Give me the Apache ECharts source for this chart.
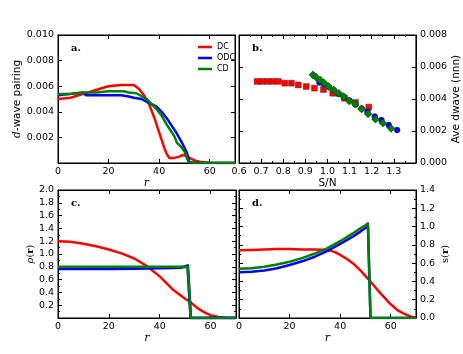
<!DOCTYPE html>
<html>
<head>
<meta charset="utf-8">
<script src="https://cdn.jsdelivr.net/npm/echarts@6/dist/echarts.min.js"></script>
<style>
  html, body { margin: 0; padding: 0; background: #fff; }
  #chart { width: 463px; height: 354px; }
</style>
</head>
<body>
<div id="chart"></div>
<script>
// panel a: d-wave pairing vs r
var rDcA = [0, 5, 10, 15, 20, 25, 30, 32, 34, 36, 38, 40, 42, 43, 44, 46, 48, 49, 50, 51, 52, 54, 56, 58, 60, 65, 70];
var dcA = [0.0050, 0.0051, 0.0054, 0.0057, 0.0060, 0.0061, 0.0061, 0.0058, 0.0053, 0.0046, 0.0036, 0.0024, 0.0012, 0.0007, 0.0004, 0.0004, 0.0005, 0.0006, 0.0006, 0.0005, 0.0004, 0.0002, 0.0001, 0.00005, 0.00002, 0, 0];
var rOdcA = [0, 5, 10, 11, 15, 20, 25, 28, 30, 33, 35, 37, 39, 41, 43, 45, 47, 49, 51, 51.5, 52, 55, 60, 65, 70];
var odcA = [0.0053, 0.0054, 0.0055, 0.0053, 0.0053, 0.0053, 0.0053, 0.0052, 0.0051, 0.0050, 0.0048, 0.0046, 0.0044, 0.0040, 0.0035, 0.0029, 0.0023, 0.0016, 0.0008, 0.0004, 0, 0, 0, 0, 0];
var rCdA = [0, 5, 10, 15, 20, 26, 28, 31, 35, 39, 41, 43, 45, 46, 47, 48, 49, 50, 51, 51.5, 52, 55, 60, 65, 70];
var cdA = [0.0054, 0.0054, 0.0055, 0.0055, 0.0056, 0.0056, 0.0055, 0.00545, 0.0050, 0.0042, 0.0037, 0.0030, 0.0024, 0.0021, 0.0016, 0.0014, 0.0012, 0.0009, 0.0004, 0.0001, 0, 0, 0, 0, 0];

// panel b: Ave dwave vs S/N
var dcBx = [0.682, 0.704, 0.730, 0.754, 0.778, 0.807, 0.837, 0.868, 0.904, 0.941, 0.982, 1.024, 1.077, 1.127, 1.187];
var dcBy = [0.00510, 0.00510, 0.00510, 0.00510, 0.00510, 0.00499, 0.00499, 0.00488, 0.00478, 0.00468, 0.00459, 0.00436, 0.00405, 0.00378, 0.00349];
var odcBx = [0.940, 0.964, 0.985, 1.005, 1.028, 1.050, 1.075, 1.100, 1.127, 1.155, 1.181, 1.214, 1.244, 1.277, 1.315];
var odcBy = [0.00545, 0.00503, 0.00492, 0.00476, 0.00455, 0.00432, 0.00412, 0.00390, 0.00365, 0.00340, 0.00320, 0.00290, 0.00268, 0.00237, 0.00206];
var cdBx = [0.934, 0.950, 0.968, 0.987, 1.005, 1.028, 1.051, 1.073, 1.098, 1.125, 1.154, 1.184, 1.217, 1.251, 1.288];
var cdBy = [0.00551, 0.00534, 0.00519, 0.00499, 0.00478, 0.00457, 0.00436, 0.00415, 0.00388, 0.00368, 0.00337, 0.00307, 0.00274, 0.00249, 0.00216];

// panel c: rho(r)
var rDcC = [0, 5, 10, 15, 20, 25, 30, 35, 40, 45, 50, 52, 55, 58, 60, 63, 66, 70];
var dcC = [1.20, 1.19, 1.16, 1.12, 1.07, 1.01, 0.93, 0.81, 0.65, 0.45, 0.30, 0.25, 0.15, 0.08, 0.045, 0.016, 0.005, 0];
var rStepC = [0, 10, 20, 30, 40, 45, 48, 50, 51, 51.6, 52.2, 70];
var odcC = [0.77, 0.77, 0.77, 0.775, 0.78, 0.785, 0.79, 0.80, 0.82, 0.82, 0, 0];
var cdC = [0.80, 0.80, 0.80, 0.80, 0.80, 0.80, 0.80, 0.80, 0.80, 0.79, 0, 0];

// panel d: s(r)
var rDcD = [0, 5, 10, 15, 20, 25, 30, 35, 38, 40, 43, 45, 48, 50, 52, 55, 58, 60, 63, 65, 68, 70];
var dcD = [0.74, 0.745, 0.75, 0.755, 0.755, 0.75, 0.75, 0.745, 0.72, 0.69, 0.64, 0.60, 0.52, 0.46, 0.40, 0.30, 0.21, 0.15, 0.08, 0.05, 0.015, 0.005];
var rStepD = [0, 5, 10, 15, 20, 25, 30, 35, 40, 45, 48, 50, 51, 51.5, 52, 70];
var odcD = [0.50, 0.505, 0.52, 0.545, 0.58, 0.62, 0.67, 0.735, 0.81, 0.89, 0.945, 0.985, 1.005, 1.01, 0, 0];
var cdD = [0.54, 0.545, 0.56, 0.585, 0.615, 0.655, 0.705, 0.765, 0.84, 0.925, 0.98, 1.015, 1.035, 1.045, 0, 0];

var RED = "#ff0000", BLUE = "#0000ff", GREEN = "#008000";
var font = "DejaVu Sans";

function zip(xs, ys) {
  return xs.map(function (x, i) { return [x, ys[i]]; });
}

// main axis with labels plus a mirror axis carrying only inside ticks
function axes(gridIndex, o) {
  var tick = { inside: true, length: 4, lineStyle: { color: "#000" } };
  var minor = { show: !!o.minor, splitNumber: 2, length: 2, lineStyle: { color: "#000" } };
  var line = { show: true, onZero: false, lineStyle: { color: "#000", width: 1 } };
  var main = {
    type: "value", gridIndex: gridIndex, position: o.pos,
    min: o.min, max: o.max, interval: o.interval,
    axisLine: line, axisTick: tick, minorTick: minor, splitLine: { show: false },
    axisLabel: {
      color: "#000", fontFamily: font, fontSize: 9.5, margin: 4,
      formatter: o.fmt, showMinLabel: o.showMin, showMaxLabel: o.showMax,
    },
    name: o.name, nameLocation: "middle", nameGap: o.gap, nameTextStyle: o.nameStyle,
  };
  var mirror = {
    type: "value", gridIndex: gridIndex, position: o.other,
    min: o.min, max: o.max, interval: o.interval,
    axisLine: line, axisTick: tick, minorTick: minor, splitLine: { show: false },
    axisLabel: { show: false },
  };
  return [main, mirror];
}

function fix(n) {
  return function (v) { return v.toFixed(n); };
}

var rName = {
  fontFamily: "DejaVu Serif", fontStyle: "italic", fontSize: 11, color: "#000",
};

var xAxes = [].concat(
  axes(0, { pos: "bottom", other: "top", min: 0, max: 70, interval: 20, fmt: fix(0), showMax: false, name: "r", gap: 11, nameStyle: rName }),
  axes(1, { pos: "bottom", other: "top", min: 0.6, max: 1.4, interval: 0.1, fmt: fix(1), showMax: false, minor: true, name: "S/N", gap: 14,
    nameStyle: { fontFamily: font, fontSize: 10.5, color: "#000" } }),
  axes(2, { pos: "bottom", other: "top", min: 0, max: 70, interval: 20, fmt: fix(0), showMax: false, name: "r", gap: 11, nameStyle: rName }),
  axes(3, { pos: "bottom", other: "top", min: 0, max: 70, interval: 20, fmt: fix(0), showMax: false, name: "r", gap: 11, nameStyle: rName })
);

var yAxes = [].concat(
  axes(0, { pos: "left", other: "right", min: 0, max: 0.01, interval: 0.002, fmt: fix(3), showMin: false,
    name: "{i|d}-wave pairing", gap: 34,
    nameStyle: { fontFamily: font, fontSize: 10.5, color: "#000",
      rich: { i: { fontFamily: "DejaVu Serif", fontStyle: "italic", fontSize: 10.5 } } } }),
  axes(1, { pos: "right", other: "left", min: 0, max: 0.008, interval: 0.002, fmt: fix(3),
    name: "Ave dwave (nnn)", gap: 33, nameStyle: { fontFamily: font, fontSize: 10.5, color: "#000" } }),
  axes(2, { pos: "left", other: "right", min: 0, max: 2.0, interval: 0.2, fmt: fix(1), showMin: false, minor: true,
    name: "{i|ρ}({b|r})", gap: 22,
    nameStyle: { fontFamily: "DejaVu Serif", fontSize: 10, color: "#000",
      rich: { i: { fontFamily: "DejaVu Serif", fontStyle: "italic", fontSize: 10 }, b: { fontFamily: "DejaVu Serif", fontWeight: "bold", fontSize: 10 } } } }),
  axes(3, { pos: "right", other: "left", min: 0, max: 1.4, interval: 0.2, fmt: fix(1), minor: true,
    name: "s({b|r})", gap: 24,
    nameStyle: { fontFamily: "DejaVu Serif", fontSize: 10, color: "#000",
      rich: { b: { fontFamily: "DejaVu Serif", fontWeight: "bold", fontSize: 10 } } } })
);

function lineSeries(name, panel, data, color, width) {
  return {
    name: name, type: "line", xAxisIndex: panel * 2, yAxisIndex: panel * 2,
    data: data, showSymbol: false, symbol: "none", animation: false,
    lineStyle: { color: color, width: width || 2.5, join: "round" }, itemStyle: { color: color },
  };
}

function dotSeries(name, data, symbol, size, color) {
  return {
    name: name, type: "scatter", xAxisIndex: 2, yAxisIndex: 2,
    data: data, symbol: symbol, symbolSize: size, animation: false,
    itemStyle: { color: color, borderColor: "rgba(40,40,40,0.6)", borderWidth: 0.6, opacity: 1 },
  };
}

var panelLetter = function (text, x, y) {
  return {
    type: "text", left: x, top: y,
    style: { text: text, font: "bold 10px 'DejaVu Serif'", fill: "#000" },
  };
};

var chart = echarts.init(document.getElementById("chart"));
chart.setOption({
  animation: false,
  grid: [
    { left: 58, top: 35, width: 177, height: 128, show: true, borderColor: "#000", borderWidth: 1 },
    { left: 239, top: 35, width: 178, height: 128, show: true, borderColor: "#000", borderWidth: 1 },
    { left: 58, top: 190, width: 178, height: 128, show: true, borderColor: "#000", borderWidth: 1 },
    { left: 239, top: 190, width: 177, height: 128, show: true, borderColor: "#000", borderWidth: 1 },
  ],
  legend: {
    data: ["DC", "ODC", "CD"], orient: "vertical", left: 193, top: 38,
    icon: "rect", itemWidth: 14, itemHeight: 2.5, itemGap: 3,
    textStyle: { fontFamily: font, fontSize: 8, color: "#000" },
  },
  xAxis: xAxes,
  yAxis: yAxes,
  graphic: [
    panelLetter("a.", 71, 43),
    panelLetter("b.", 252, 43),
    panelLetter("c.", 71, 198),
    panelLetter("d.", 252, 198),
  ],
  series: [
    lineSeries("DC", 0, zip(rDcA, dcA), RED),
    lineSeries("ODC", 0, zip(rOdcA, odcA), BLUE),
    lineSeries("CD", 0, zip(rCdA, cdA), GREEN),
    dotSeries("DC", zip(dcBx, dcBy), "rect", 6, RED),
    dotSeries("ODC", zip(odcBx, odcBy), "circle", 6, BLUE),
    dotSeries("CD", zip(cdBx, cdBy), "diamond", 8, GREEN),
    lineSeries("DC", 2, zip(rDcC, dcC), RED),
    lineSeries("ODC", 2, zip(rStepC, odcC), BLUE, 3),
    lineSeries("CD", 2, zip(rStepC, cdC), GREEN),
    lineSeries("DC", 3, zip(rDcD, dcD), RED),
    lineSeries("ODC", 3, zip(rStepD, odcD), BLUE),
    lineSeries("CD", 3, zip(rStepD, cdD), GREEN),
  ],
});
</script>
</body>
</html>
